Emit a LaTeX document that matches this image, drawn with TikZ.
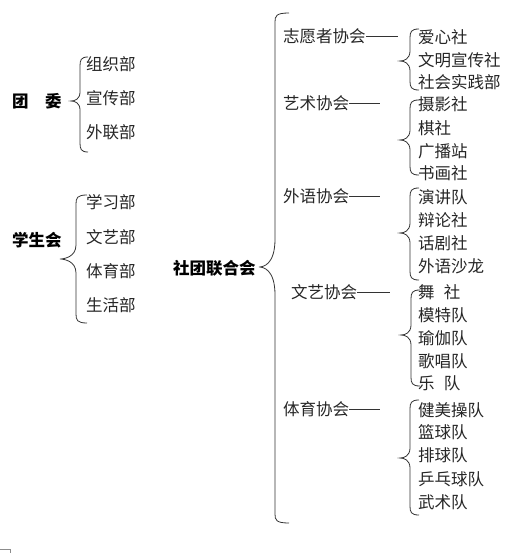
\documentclass[tikz,border=0pt]{standalone}
\usepackage{fontspec}
\setmainfont{Noto Sans CJK SC}
\tikzset{
  x=1pt, y=-1pt,
  lbl/.style={anchor=west, inner sep=0pt, font=\fontsize{16.5}{17}\selectfont, text=black!85},
  boldlbl/.style={lbl, font=\fontsize{16.5}{17}\selectfont\bfseries, text=black},
  brc/.style={draw=black!80, line width=0.8pt},
  conn/.style={draw=black!80, line width=0.8pt}
}
% #1 x of vertical, #2 top y, #3 tip y, #4 bottom y, #5 tip x, #6 hook x, #7 radius of tip bend
\newcommand\mybrc[7]{%
  \draw[brc] (#6,#2) .. controls (#1+1,#2) and (#1,#2+3) .. (#1,#2+9)
    -- (#1,#3-#7) .. controls (#1,#3-2) and (#5+4,#3) .. (#5,#3)
    .. controls (#5+4,#3) and (#1,#3+2) .. (#1,#3+#7)
    -- (#1,#4-9) .. controls (#1,#4-3) and (#1+1,#4) .. (#6,#4);}
\begin{document}
\begin{tikzpicture}
\useasboundingbox (0,0) rectangle (511,556);
\fill[white] (0,0) rectangle (511,556);

% left groups
\node[boldlbl] (tw) at (12,101) {团　委};
\mybrc{80}{57}{101}{152}{71}{88}{9}
\node[lbl] (zz) at (86,64) {组织部};
\node[lbl] (xc) at (86,98) {宣传部};
\node[lbl] (wl) at (86,132) {外联部};

\node[boldlbl] (xsh) at (12,240) {学生会};
\mybrc{76}{195}{259}{323}{60}{87}{14}
\node[lbl] (xx) at (86,202) {学习部};
\node[lbl] (wy) at (86,237) {文艺部};
\node[lbl] (ty) at (86,271) {体育部};
\node[lbl] (sh) at (86,305) {生活部};

% central
\node[boldlbl] (st) at (173,268) {社团联合会};
\mybrc{275}{13}{267}{523}{259}{289}{28}

% associations
\node[lbl] (zy) at (283,36) {志愿者协会};
\node[lbl] (ys) at (283,103) {艺术协会};
\node[lbl] (wyx) at (283,196) {外语协会};
\node[lbl] (wyh) at (291,292) {文艺协会};
\node[lbl] (tyx) at (283,409) {体育协会};
\coordinate (zyE) at (398,36);
\coordinate (ysE) at (380,103);
\coordinate (wyxE) at (380,196);
\coordinate (wyhE) at (390,292);
\coordinate (tyxE) at (380,409);
\draw[conn] (zy.east) -- (zyE);
\draw[conn] (ys.east) -- (ysE);
\draw[conn] (wyx.east) -- (wyxE);
\draw[conn] (wyh.east) -- (wyhE);
\draw[conn] (tyx.east) -- (tyxE);

% right braces
\mybrc{410}{29}{61}{90}{400}{419}{10}
\mybrc{410}{100}{140}{175}{400}{419}{10}
\mybrc{410}{188}{233}{280}{400}{419}{10}
\mybrc{411}{290}{335}{386}{401}{420}{10}
\mybrc{410}{400}{458}{515}{400}{419}{10}

\node[lbl] (a1) at (418,37) {爱心社};
\node[lbl] (a2) at (418,60) {文明宣传社};
\node[lbl] (a3) at (418,82) {社会实践部};

\node[lbl] (b1) at (418,104) {摄影社};
\node[lbl] (b2) at (418,128) {棋社};
\node[lbl] (b3) at (418,151) {广播站};
\node[lbl] (b4) at (418,173) {书画社};

\node[lbl] (c1) at (418,197) {演讲队};
\node[lbl] (c2) at (418,220) {辩论社};
\node[lbl] (c3) at (418,243) {话剧社};
\node[lbl] (c4) at (418,266) {外语沙龙};

\node[lbl] (d1) at (418,292) {舞\hspace{0.55em}社};
\node[lbl] (d2) at (418,315) {模特队};
\node[lbl] (d3) at (418,338) {瑜伽队};
\node[lbl] (d4) at (418,361) {歌唱队};
\node[lbl] (d5) at (418,383) {乐\hspace{0.55em}队};

\node[lbl] (e1) at (418,410) {健美操队};
\node[lbl] (e2) at (418,432) {篮球队};
\node[lbl] (e3) at (418,455) {排球队};
\node[lbl] (e4) at (418,479) {乒乓球队};
\node[lbl] (e5) at (418,502) {武术队};

% small mark at bottom left
\draw[black!45, line width=0.6pt] (0,549) -- (10,549) -- (10,553);
\end{tikzpicture}
\end{document}
